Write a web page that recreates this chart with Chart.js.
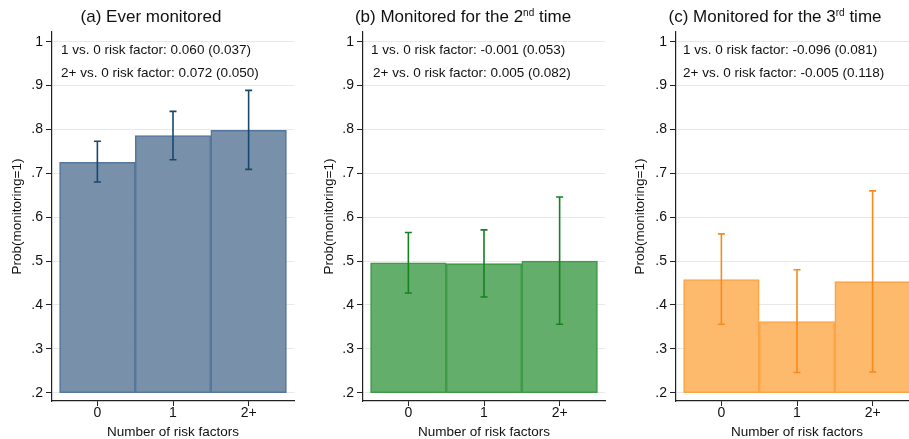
<!DOCTYPE html>
<html><head><meta charset="utf-8">
<script src="https://cdn.jsdelivr.net/npm/chart.js@4.4.1/dist/chart.umd.min.js"></script>
<style>
html,body{margin:0;padding:0;overflow:hidden;background:#fff;width:909px;height:439px}
#wrap{position:relative;width:909px;height:439px;overflow:hidden}
canvas{position:absolute;top:0}
.ttl{position:absolute;top:7px;height:20px;line-height:20px;font-family:"Liberation Sans",Arial,sans-serif;font-size:17px;color:#111;white-space:nowrap;transform:translateX(-50%)}
.ttl .sp{font-size:10px;position:relative;top:-6px}
</style></head>
<body><div id="wrap">
<canvas id="ca" width="303" height="439" style="left:0px"></canvas>
<canvas id="cb" width="303" height="439" style="left:303px"></canvas>
<canvas id="cc" width="320" height="439" style="left:606px"></canvas>
<div class="ttl" style="left:151px">(a) Ever monitored</div>
<div class="ttl" style="left:463px">(b) Monitored for the 2<span class="sp">nd</span> time</div>
<div class="ttl" style="left:775px">(c) Monitored for the 3<span class="sp">rd</span> time</div>
</div>
<script>
// ---- data ----
const categories = ['0', '1', '2+'];
const yTickValues = [0.2, 0.3, 0.4, 0.5, 0.6, 0.7, 0.8, 0.9, 1];
const everMean = [0.725, 0.786, 0.798];
const everLo   = [0.680, 0.731, 0.709];
const everHi   = [0.773, 0.841, 0.889];
const secondMean = [0.496, 0.494, 0.500];
const secondLo   = [0.427, 0.418, 0.356];
const secondHi   = [0.565, 0.571, 0.646];
const thirdMean = [0.458, 0.362, 0.453];
const thirdLo   = [0.356, 0.246, 0.247];
const thirdHi   = [0.562, 0.480, 0.660];
const everNotes   = ['1 vs. 0 risk factor: 0.060 (0.037)', '2+ vs. 0 risk factor: 0.072 (0.050)'];
const secondNotes = ['1 vs. 0 risk factor: -0.001 (0.053)', '2+ vs. 0 risk factor: 0.005 (0.082)'];
const thirdNotes  = ['1 vs. 0 risk factor: -0.096 (0.081)', '2+ vs. 0 risk factor: -0.005 (0.118)'];
const barBase = 0.2;
const yTitle = 'Prob(monitoring=1)';
const xTitle = 'Number of risk factors';

Chart.defaults.font.family = '"Liberation Sans", Arial, sans-serif';
Chart.defaults.color = '#111';

const errPlugin = {
  id: 'errbars',
  afterDatasetsDraw(chart, args, opts) {
    const ctx = chart.ctx, xs = chart.scales.x, ys = chart.scales.y;
    ctx.save();
    ctx.strokeStyle = opts.color; ctx.lineWidth = opts.width;
    opts.lo.forEach((lo, i) => {
      const x = xs.getPixelForValue(i), y1 = ys.getPixelForValue(lo), y2 = ys.getPixelForValue(opts.hi[i]);
      ctx.beginPath();
      ctx.moveTo(x, y1); ctx.lineTo(x, y2);
      ctx.moveTo(x - opts.cap, y1); ctx.lineTo(x + opts.cap, y1);
      ctx.moveTo(x - opts.cap, y2); ctx.lineTo(x + opts.cap, y2);
      ctx.stroke();
    });
    ctx.restore();
  }
};
const notePlugin = {
  id: 'notes',
  afterDraw(chart, args, opts) {
    const ctx = chart.ctx;
    ctx.save();
    ctx.font = '13.5px "Liberation Sans", Arial, sans-serif';
    ctx.fillStyle = '#111'; ctx.textBaseline = 'middle'; ctx.textAlign = 'left';
    opts.text.forEach((t, i) => {
      ctx.fillText(t, chart.scales.x.getPixelForValue(opts.x[i]), chart.scales.y.getPixelForValue(opts.y[i]));
    });
    ctx.restore();
  }
};

function make(id, mean, lo, hi, notes, st, lay) {
  new Chart(document.getElementById(id), {
    type: 'bar',
    data: {
      datasets: [{
        data: mean.map((v, i) => ({x: i, y: [barBase, v]})),
        backgroundColor: st.fill, borderColor: st.border, borderWidth: 1.6,
        borderSkipped: false, barPercentage: 1, categoryPercentage: 1
      }]
    },
    options: {
      responsive: false, animation: false, devicePixelRatio: 1,
      layout: {padding: {left: lay.padL, right: lay.padR, top: 32, bottom: 0}},
      plugins: {
        legend: {display: false}, tooltip: {enabled: false},
        errbars: {lo: lo, hi: hi, color: st.err, width: 1.6, cap: 3.5},
        notes: {text: notes, x: lay.noteX, y: [0.9795, 0.929]}
      },
      scales: {
        x: {
          type: 'linear', min: -0.6, max: 2.6, offset: false,
          afterBuildTicks: s => { s.ticks = categories.map((c, i) => ({value: i})); },
          afterFit: s => { s.height = 38; },
          ticks: {callback: v => categories[v], font: {size: 14, lineHeight: 1}, padding: 0, maxRotation: 0, color: '#111'},
          grid: {offset: false, drawOnChartArea: false, drawTicks: true, tickLength: 5, tickColor: '#222', tickWidth: 1},
          border: {display: true, color: '#222', width: 1.2},
          title: {display: true, text: xTitle, font: {size: 13.5, lineHeight: 1}, padding: 0, color: '#111'}
        },
        y: {
          min: 0.181, max: 1.022,
          afterBuildTicks: s => { s.ticks = yTickValues.map(v => ({value: v})); },
          afterFit: s => { s.width = lay.yW; },
          ticks: {callback: v => v >= 1 ? '1' : '.' + Math.round(v * 10), font: {size: 14}, padding: 3, color: '#111'},
          grid: {color: '#e8e8e8', lineWidth: 1, drawTicks: true, tickLength: 6, tickColor: '#222', tickWidth: 1},
          border: {display: true, color: '#222', width: 1.2},
          title: {display: true, text: yTitle, font: {size: 13.5, lineHeight: 1.2}, padding: 0, color: '#111'}
        }
      }
    },
    plugins: [errPlugin, notePlugin]
  });
}

make('ca', everMean, everLo, everHi, everNotes,
  {fill: '#7890aa', border: '#56779c', err: '#1a476f'},
  {padL: 9.6, yW: 42.4, padR: 9, noteX: [-0.48, -0.48]});
make('cb', secondMean, secondLo, secondHi, secondNotes,
  {fill: '#64ae6b', border: '#3f9a4a', err: '#17801f'},
  {padL: 18.6, yW: 41.4, padR: 1, noteX: [-0.494, -0.468]});
make('cc', thirdMean, thirdLo, thirdHi, thirdNotes,
  {fill: '#fdb96c', border: '#fda545', err: '#f98a1c'},
  {padL: 26.6, yW: 43.4, padR: 8, noteX: [-0.507, -0.507]});
</script>
</body></html>
